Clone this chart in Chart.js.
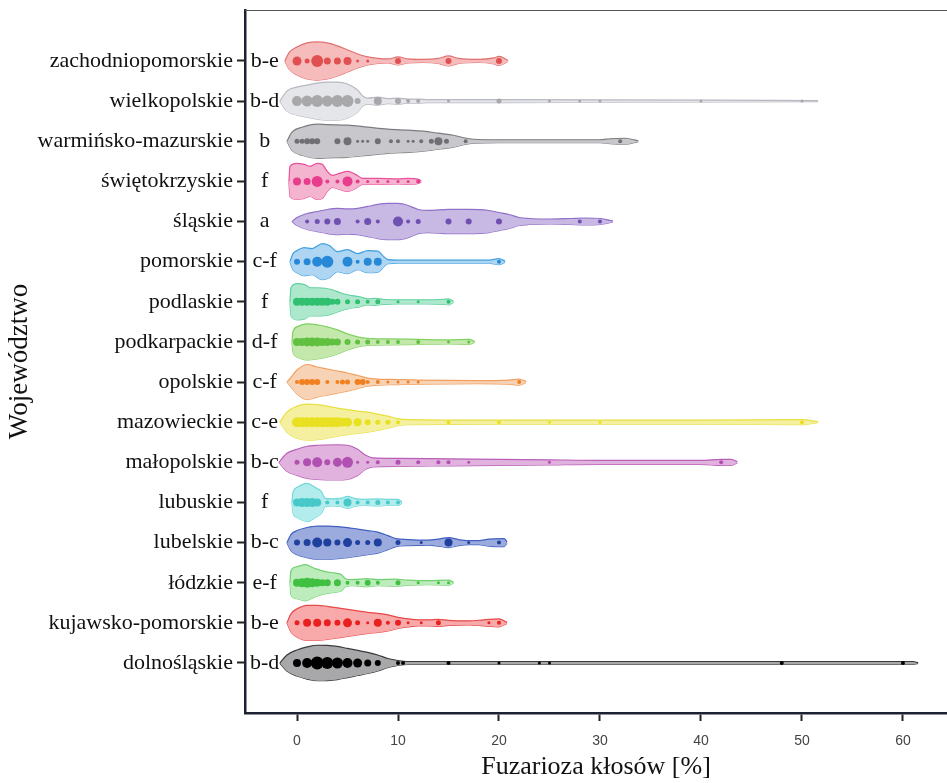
<!DOCTYPE html>
<html lang="pl">
<head>
<meta charset="utf-8">
<script src="https://cdn.jsdelivr.net/npm/chart.js@4.4.1/dist/chart.umd.min.js"></script>
<style>
  html, body { margin: 0; padding: 0; background: #fff; }
  #wrap { width: 947px; height: 783px; }
</style>
</head>
<body>
<div id="wrap"><canvas id="wykres" width="947" height="783"></canvas></div>
<script>
// Województwa od góry do dołu
const wojewodztwa = [
  'zachodniopomorskie', 'wielkopolskie', 'warmińsko-mazurskie', 'świętokrzyskie',
  'śląskie', 'pomorskie', 'podlaskie', 'podkarpackie', 'opolskie', 'mazowieckie',
  'małopolskie', 'lubuskie', 'lubelskie', 'łódzkie', 'kujawsko-pomorskie', 'dolnośląskie'
];
const grupy = ['b-e', 'b-d', 'b', 'f', 'a', 'c-f', 'f', 'd-f', 'c-f', 'c-e', 'b-c', 'f', 'b-c', 'e-f', 'b-e', 'b-d'];
const osX = [0, 10, 20, 30, 40, 50, 60];

// Obrysy skrzypiec: [fuzarioza %, gęstość względna]
const obrysZachodniopomorskie = [[-1.2,0],[-0.8,8],[0,14],[1,18],[2,19],[3,18],[4,15],[5,11],[6,7],[7,4],[8,2.5],[9,2],[10,4],[11,2],[12.5,1.5],[14,2.5],[15,5],[16,2.5],[18,1.5],[19.5,3],[20,4.5],[20.9,0.5]];
const obrysWielkopolskie = [[-1.7,0],[-1,10],[0,14],[1,16],[2,18],[3,19],[4,19],[5,17],[6,11],[6.5,5],[7,3],[8,4],[9,2.5],[10,3],[11,2],[12,2],[13,1.5],[20,1.5],[51.6,0.5]];
const obrysWarminskoMazurskie = [[-1,0],[-0.5,9],[0.5,14],[2,17],[3,16.5],[5,16],[7,14],[9,12],[11,11],[12.5,10],[14,8],[15.5,6],[16.5,3.5],[17.5,2],[20,1.5],[30,1.5],[31,2.5],[32.5,3],[33.8,0.5]];
const obrysSwietokrzyskie = [[-0.8,0],[-0.7,15],[0,18],[0.7,17],[1.3,15],[2,18],[2.5,17],[3,10],[3.5,6],[4.2,8],[5,10],[5.8,7],[6.5,3],[8,3],[10,2.5],[11,3],[12,2],[12.3,0.5]];
const obrysSlaskie = [[-0.5,0],[0,4],[1,8],[2,10],[3,12],[4,13],[5,12.5],[6,13],[7,15],[8,17],[9,18],[10,18],[11,16],[12,12],[13,11],[15,12],[17,12],[19,11],[20,9],[21,7],[22,4],[23,3],[25,2.5],[27,3],[28.5,3.5],[30,3],[31.3,0.5]];
const obrysPomorskie = [[-0.7,0],[-0.4,8],[0,11],[0.7,14],[1.5,13],[2.5,18],[3.2,16],[4,10],[5,12],[6,8],[7,11],[8,10.5],[8.6,5],[9,2],[10,1.5],[19,1.5],[20,3],[20.6,0.5]];
const obrysPodlaskie = [[-0.7,0],[-0.6,14],[0,18],[0.8,17],[1.3,14],[2,14],[2.8,13.5],[3.5,12],[4.3,9],[5,7],[6.2,5],[7,3],[7.8,3.5],[8.5,2.5],[10,2],[13,2],[14.5,2.5],[15,3],[15.5,0.5]];
const obrysPodkarpackie = [[-0.5,0],[-0.4,10],[0,15],[1,18],[2,17],[3,15],[4,12],[5,8],[6,5],[7,3.5],[9,3],[12,2.5],[15,2],[17,2.5],[17.6,0.5]];
const obrysOpolskie = [[-1,0],[-0.5,6],[0,12],[1,17.5],[2,15],[3,13],[4,11],[5,9],[6,6.5],[7,4],[8,3],[10,2.5],[12,2],[18,1.5],[21,2],[22,3],[22.7,0.5]];
const obrysMazowieckie = [[-1.7,0],[-1,10],[0,16],[1,18],[2,17.5],[3,16],[4,14],[5,12.5],[6,11],[7,10],[8,8],[9,6],[10,3.5],[11,2.5],[20,2],[40,2],[50,2.5],[51.6,0.5]];
const obrysMalopolskie = [[-1.8,0],[-1,9],[0,13],[1,16],[2,17],[4,17.5],[5,17],[6,13],[6.8,7],[7.5,4.5],[10,4],[15,3.5],[20,3],[25,2.5],[30,2],[40,2],[42,3],[43,3],[43.6,0.5]];
const obrysLubuskie = [[-0.5,0],[-0.4,10],[0,15],[1,19],[1.8,15],[2.4,11],[2.8,4],[3.5,3.5],[4.3,4],[5,6],[5.7,4],[6.5,3],[8,3.5],[9,3],[10,3],[10.4,0.5]];
const obrysLubelskie = [[-1,0],[-0.6,8],[0,12],[1,15],[2,16.5],[3,16.5],[4,16],[5,15],[6,13.5],[7,12],[8,10.5],[9,7],[9.8,4],[11,3],[13,2.5],[14,3.5],[15,5],[16,3],[17,2],[18,2],[19,3.5],[20.5,4],[20.8,0.5]];
const obrysLodzkie = [[-0.7,0],[-0.6,12],[0,16],[0.8,18],[1.8,14],[2.8,11],[3.8,9.5],[4.4,8],[4.8,4],[5.5,3],[6.9,4],[8,3],[9.7,3.5],[11,2.5],[13,2],[15,2.5],[15.5,0.5]];
const obrysKujawskoPomorskie = [[-1,0],[-0.6,9],[0,14],[1,17.5],[2,17.5],[3,16.5],[4,15],[5,13.5],[6,12],[7,10.5],[8,9.5],[9,8],[10,5.5],[11,4],[12,3],[13,3],[14,3.5],[15,2.5],[17,2],[18.5,3],[20,4],[20.8,0.5]];
const obrysDolnoslaskie = [[-1.7,0],[-1,8],[0,13],[1,16],[2,17.7],[3,17.5],[4,16.5],[5,14.5],[6,12.5],[7,10.5],[8,8],[9,4.5],[10,2.5],[11,1.5],[61,1.5],[61.5,0.3]];

// Obserwacje: [fuzarioza %, wielkość punktu]
const punktyZachodniopomorskie = [[0,4.5],[1,2.5],[2,6],[3,3.5],[4,3.5],[5,4],[6,1.5],[7,1.5],[10,3],[15,3],[20,3]];
const punktyWielkopolskie = [[0,5],[1,5.5],[2,6],[3,5.5],[4,6],[5,6],[6,3],[8,4],[10,3],[11,2],[12,2],[15,1.5],[20,2.5],[25,1.5],[28,1.5],[30,1.5],[40,1.5],[50,1.5]];
const punktyWarminskoMazurskie = [[0,2.5],[0.5,2.5],[1,3],[1.5,3],[2,3],[4,3],[5,4],[6,1.5],[6.5,1.5],[7,1.5],[8,3],[9.3,2],[10,2],[11,1.5],[11.5,1.5],[12.3,2],[13.3,2.5],[14,4],[14.8,2.5],[16.7,2],[32,2]];
const punktySwietokrzyskie = [[0,4],[1,3.5],[2,5.5],[3,2],[4,2],[5,5],[6,2],[7,1.5],[8,1.5],[9,1.5],[10,1.5],[11,1.5],[12,2]];
const punktySlaskie = [[1,2],[2,2.5],[3,3],[4,3.5],[6,2],[7,3.5],[8,2],[10,5],[11,2],[12,2.5],[15,3],[17,3],[20,3],[28,2],[30,2]];
const punktyPomorskie = [[0,3],[1,3.5],[2,5],[3,6],[5,5],[6,2],[7,4],[8,4],[20,2]];
const punktyPodlaskie = [[0,4],[0.5,4],[1,4],[1.5,4],[2,4],[2.5,4],[3,4],[3.5,3],[4,3],[5,2.5],[6,2.5],[7,2],[8,2.5],[10,1.5],[12,1.5],[15,2]];
const punktyPodkarpackie = [[0,4],[0.5,4],[1,4.5],[1.5,4.5],[2,4.5],[2.5,4],[3,4],[3.5,3.5],[4,3.5],[5,3],[6,2.5],[7,2.5],[8,2],[9,2],[10,2],[12,2],[15,1.5],[17,1.5]];
const punktyOpolskie = [[0,2],[0.5,3],[1,3],[1.5,3],[2,3],[3,2],[4,2],[4.5,2.5],[5,2.5],[6,3],[6.5,3],[7,2],[8,2],[9,1.5],[10,1.5],[11,1.5],[12,1.5],[22,2]];
const punktyMazowieckie = [[0,5],[0.5,5],[1,5],[1.5,5],[2,5],[2.5,5],[3,5],[3.5,5],[4,5],[4.5,4.5],[5,4.5],[6,4],[7,3],[8,2.5],[9,2.5],[10,2],[15,2],[20,2],[25,1.5],[30,1.5],[50,2]];
const punktyMalopolskie = [[0,2.5],[1,4],[2,5],[3,3],[4,4.5],[5,5.5],[6,1.5],[7,1.5],[8,2],[10,2.5],[12,2],[14,2],[15,2],[17,1.5],[25,1.5],[42,2]];
const punktyLubuskie = [[0,4],[0.5,4.5],[1,4.5],[1.5,4.5],[2,4],[3,2],[4,2],[5,4],[6,2],[7,2],[8,2.5],[9,2],[10,2]];
const punktyLubelskie = [[0,3],[1,3.5],[2,5],[3,4],[4,3],[5,4.5],[6,2.5],[7,2.5],[8,4],[10,2.5],[12.3,1.5],[15,4],[17,1.5],[20,2]];
const punktyLodzkie = [[0,4],[0.5,4.5],[1,5],[1.5,4.5],[2,4],[2.5,3.5],[3,3.5],[4,3.5],[5,2],[6,2],[7,3],[8,2],[10,2.5],[12,1.5],[14,1.5],[15,1.5]];
const punktyKujawskoPomorskie = [[0,2.5],[1,4],[2,4],[3,3.5],[4,3],[5,4.5],[6,2.5],[7,1.5],[8,4],[9,2],[10,3],[11,1.5],[12.3,1.5],[14,2.5],[19,1.5],[20,2]];
const punktyDolnoslaskie = [[0,4],[1,5],[2,6.5],[3,6],[4,5.5],[5,5],[6,4.5],[7,3.5],[8,3],[10,2],[10.5,2],[15,2],[20,1.5],[24,1.5],[25,1.5],[48,2],[60,2]];

const obrysy = [obrysZachodniopomorskie, obrysWielkopolskie, obrysWarminskoMazurskie, obrysSwietokrzyskie,
  obrysSlaskie, obrysPomorskie, obrysPodlaskie, obrysPodkarpackie, obrysOpolskie, obrysMazowieckie,
  obrysMalopolskie, obrysLubuskie, obrysLubelskie, obrysLodzkie, obrysKujawskoPomorskie, obrysDolnoslaskie];
const punkty = [punktyZachodniopomorskie, punktyWielkopolskie, punktyWarminskoMazurskie, punktySwietokrzyskie,
  punktySlaskie, punktyPomorskie, punktyPodlaskie, punktyPodkarpackie, punktyOpolskie, punktyMazowieckie,
  punktyMalopolskie, punktyLubuskie, punktyLubelskie, punktyLodzkie, punktyKujawskoPomorskie, punktyDolnoslaskie];

const kolorObrysu = ['#e07070', '#b8b8c0', '#7c7c80', '#e8509a', '#9070c8', '#40a0e0', '#60d0a0', '#80d060',
  '#f0a060', '#e8e040', '#b860b8', '#70d8d8', '#4060c0', '#70d070', '#e84848', '#3a3a3a'];
const kolorWypelnienia = ['#f6bcbc', '#e4e6ea', '#c8c8cc', '#f4b4d0', '#c8b8e4', '#aed6f2', '#aee8cc', '#c4e8ac',
  '#f8d2b4', '#f4f0a0', '#e2b2de', '#b2ecec', '#9cabdd', '#bcecbc', '#f8aaaa', '#a8a8aa'];
const kolorPunktow = ['#e05050', '#a8a8aa', '#707074', '#e83c8c', '#7050b0', '#2888d8', '#30c070', '#60c040',
  '#f08020', '#e8e020', '#b050b0', '#48c8c8', '#2040a0', '#40c040', '#e82020', '#000000'];

const SKALA = 0.025; // jednostki osi Y na jednostkę gęstości

const datasets = [];
wojewodztwa.forEach((w, i) => {
  const yc = wojewodztwa.length - 1 - i;
  datasets.push({
    type: 'line',
    data: obrysy[i].map(([x, d]) => ({ x, y: yc + d * SKALA })),
    borderColor: kolorObrysu[i],
    backgroundColor: kolorWypelnienia[i],
    borderWidth: 1.2,
    pointRadius: 0,
    fill: '+1',
    cubicInterpolationMode: 'monotone',
    order: 2
  });
  datasets.push({
    type: 'line',
    data: obrysy[i].map(([x, d]) => ({ x, y: yc - d * SKALA })),
    borderColor: kolorObrysu[i],
    borderWidth: 1.2,
    pointRadius: 0,
    fill: false,
    cubicInterpolationMode: 'monotone',
    order: 2
  });
  datasets.push({
    type: 'bubble',
    data: punkty[i].map(([x, r]) => ({ x, y: yc, r })),
    backgroundColor: kolorPunktow[i],
    borderWidth: 0,
    order: 1
  });
});

// Litery grup jednorodnych i górna ramka
const etykietyGrup = {
  id: 'etykietyGrup',
  afterDatasetsDraw(chart) {
    const { ctx, chartArea, scales: { x, y } } = chart;
    ctx.save();
    ctx.font = '22px "Liberation Serif"';
    ctx.fillStyle = '#111';
    ctx.textAlign = 'center';
    ctx.textBaseline = 'middle';
    grupy.forEach((g, i) => {
      ctx.fillText(g, x.getPixelForValue(-3.2), y.getPixelForValue(wojewodztwa.length - 1 - i));
    });
    ctx.strokeStyle = '#555';
    ctx.lineWidth = 1;
    ctx.beginPath();
    ctx.moveTo(chartArea.left, chartArea.top + 0.5);
    ctx.lineTo(chartArea.right, chartArea.top + 0.5);
    ctx.stroke();
    ctx.restore();
  }
};

new Chart(document.getElementById('wykres'), {
  type: 'scatter',
  data: { datasets },
  plugins: [etykietyGrup],
  options: {
    responsive: false,
    animation: false,
    devicePixelRatio: 1,
    layout: { autoPadding: false, padding: { top: 10, left: 0, right: 0, bottom: 0 } },
    plugins: { legend: { display: false }, tooltip: { enabled: false } },
    scales: {
      x: {
        type: 'linear',
        min: -5.15,
        max: 64.36,
        afterBuildTicks: s => { s.ticks = osX.map(v => ({ value: v })); },
        afterFit: s => { s.height = 70; s.paddingLeft = 0; s.paddingRight = 0; },
        grid: { drawOnChartArea: false, drawTicks: true, tickLength: 8, tickWidth: 2, color: '#222' },
        border: { display: true, width: 2.5, color: '#1c2230' },
        ticks: { font: { family: 'Liberation Sans', size: 14 }, color: '#444', padding: 12, autoSkip: false, maxRotation: 0 },
        title: { display: true, text: 'Fuzarioza kłosów [%]', font: { family: 'Liberation Serif', size: 26 }, color: '#111', padding: { top: 0, bottom: 0 } }
      },
      y: {
        type: 'linear',
        min: -1.246,
        max: 16.27,
        afterBuildTicks: s => { s.ticks = wojewodztwa.map((_, i) => ({ value: i })); },
        afterFit: s => { s.width = 245; s.paddingTop = 0; s.paddingBottom = 0; },
        grid: { drawOnChartArea: false, drawTicks: true, tickLength: 8, tickWidth: 2, color: '#222' },
        border: { display: true, width: 2.5, color: '#1c2230' },
        ticks: {
          callback: v => wojewodztwa[wojewodztwa.length - 1 - v],
          font: { family: 'Liberation Serif', size: 22 },
          color: '#111',
          padding: 4,
          autoSkip: false
        },
        title: { display: true, text: 'Województwo', font: { family: 'Liberation Serif', size: 27 }, color: '#111', padding: { top: 4, bottom: 0 } }
      }
    }
  }
});
</script>
</body>
</html>
